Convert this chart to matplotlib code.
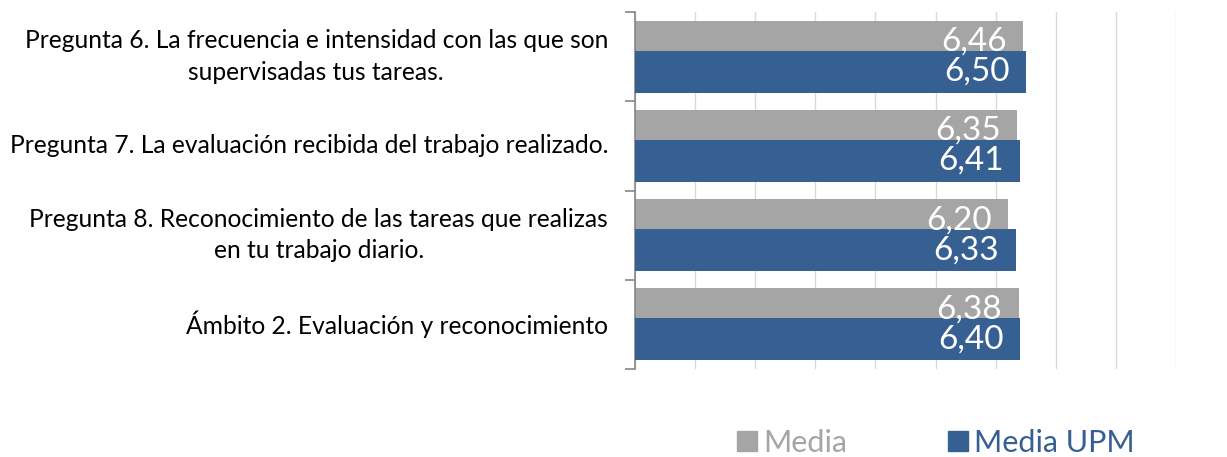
import matplotlib
matplotlib.use("Agg")
import matplotlib.pyplot as plt
import matplotlib.transforms as mtransforms
import numpy as np
from matplotlib.patches import Patch

plt.rcParams['font.family'] = ['Lato', 'DejaVu Sans']

# Data
categories = [
    "Pregunta 6. La frecuencia e intensidad con las que son\nsupervisadas tus tareas.",
    "Pregunta 7. La evaluación recibida del trabajo realizado.",
    "Pregunta 8. Reconocimiento de las tareas que realizas\nen tu trabajo diario.",
    "Ámbito 2. Evaluación y reconocimiento",
]
media = [6.46, 6.35, 6.20, 6.38]
media_upm = [6.50, 6.41, 6.33, 6.40]
series_names = ["Media", "Media UPM"]

gray = "#A5A5A5"
blue = "#376092"

fig = plt.figure(figsize=(12.27, 4.57), dpi=100)
ax = fig.add_axes([635 / 1227, 1 - 369 / 457, 541 / 1227, 357 / 457])

y = np.arange(len(categories))
h = 0.47
off = 0.168
bars_gray = ax.barh(y - off, media, height=h, color=gray, zorder=2)
bars_blue = ax.barh(y + off, media_upm, height=h, color=blue, zorder=3)

# value labels, inside end
for bars, vals, z in [(bars_gray, media, 4), (bars_blue, media_upm, 5)]:
    for b, v in zip(bars, vals):
        ax.text(v - 0.27, b.get_y() + b.get_height() / 2, f"{v:.2f}".replace(".", ","),
                ha="right", va="center", color="white", fontsize=24, zorder=z)

ax.set_xlim(0, 9)
ax.set_ylim(3.5, -0.5)
ax.set_xticks(np.arange(0, 10))
ax.tick_params(axis="x", length=0, labelbottom=False)
ax.grid(axis="x", color="#D9D9D9", linewidth=1, zorder=0)

# ticks at category boundaries
ax.set_yticks(np.arange(-0.5, 4, 1))
ax.set_yticklabels([])
ax.tick_params(axis="y", which="major", direction="out", length=7, color="#868686", width=1.2)

# category labels, right aligned left of the axis
trans = mtransforms.blended_transform_factory(ax.transAxes, ax.transData)
t = trans + mtransforms.ScaledTranslation(-27 / 100, 0, fig.dpi_scale_trans)
for i, cat in enumerate(categories):
    ax.text(0, i, cat, transform=t, ha="right", va="center", fontsize=17.7,
            multialignment="center", linespacing=1.45)

for s in ["top", "right", "bottom"]:
    ax.spines[s].set_visible(False)
ax.spines["left"].set_color("#868686")
ax.spines["left"].set_linewidth(1.2)

handles = [Patch(color=gray), Patch(color=blue)]
fig.legend(handles, series_names, loc="center", bbox_to_anchor=(936 / 1227, 1 - 443 / 457),
           ncol=2, frameon=False, fontsize=22, handlelength=0.65, handleheight=0.65,
           handletextpad=0.2, columnspacing=3.3, labelcolor=[gray, blue])

fig.savefig("out.png", dpi=100)
